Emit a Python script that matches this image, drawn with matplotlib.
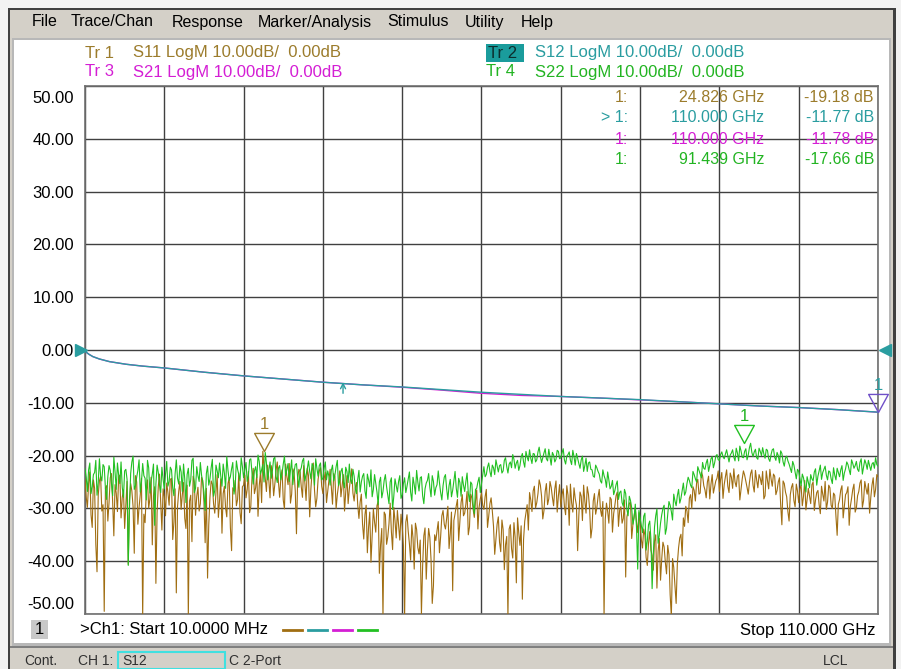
import numpy as np
import matplotlib
matplotlib.use("Agg")
import matplotlib.pyplot as plt
from matplotlib.patches import Rectangle
from matplotlib.lines import Line2D
from matplotlib.path import Path
from matplotlib.transforms import ScaledTranslation

plt.rcParams['font.family'] = ['Liberation Sans', 'DejaVu Sans']

# ---------------- data ----------------
start_ghz = 0.01
stop_ghz = 110.0

# S12 / S21 (smooth insertion-loss traces)
s12_freq = [0.01, 0.25, 0.6, 1.1, 2.0, 3.4, 5.7, 8.0, 11.0, 16.5, 22.0, 27.5, 33.0, 38.5, 44.0,
            49.5, 55.0, 60.5, 66.0, 71.5, 77.0, 82.5, 88.0, 93.5, 99.0, 104.5, 110.0]
s12_db = [0.0, -0.5, -0.85, -1.25, -1.7, -2.2, -2.7, -3.05, -3.4, -4.2, -4.9, -5.5, -6.1, -6.6, -7.0,
          -7.5, -8.0, -8.4, -8.8, -9.1, -9.4, -9.8, -10.2, -10.6, -10.9, -11.3, -11.77]
s21_db = [0.0, -0.5, -0.85, -1.25, -1.7, -2.2, -2.7, -3.05, -3.4, -4.2, -4.9, -5.5, -6.1, -6.6, -7.05,
          -7.6, -8.2, -8.6, -8.8, -9.1, -9.45, -9.8, -10.2, -10.6, -10.9, -11.3, -11.78]

# S11 (reflection, noisy) - even samples
s11_db = [
    -24.5, -29.8, -23.1, -33.6, -26.2, -42.0, -24.8, -30.5, -49.5, -25.7, -28.9, -23.4, -35.2, -27.1, -24.0, -31.8, -26.5,
    -29.4, -40.6, -25.3, -29.6, -23.8, -33.0, -27.4, -50.5, -32.7, -24.6, -28.2, -36.9, -25.9, -30.8, -23.5, -34.1,
    -27.8, -25.2, -29.4, -24.3, -32.6, -46.0, -26.8, -30.2, -25.1, -33.8, -50.5, -27.5, -23.9, -31.3, -26.0, -29.1, -24.7,
    -36.5, -43.2, -27.9, -25.4, -30.9, -23.6, -28.4, -34.7, -25.8, -31.6, -24.2, -38.0, -26.7, -29.5, -23.3, -32.9,
    -25.6, -28.0, -23.0, -29.6, -22.4, -26.1, -31.5, -23.3, -19.18, -24.3, -21.8, -28.0, -23.6, -25.4, -21.2, -27.9, -22.7,
    -30.1, -24.0, -21.5, -27.3, -23.2, -34.8, -22.6, -25.9, -21.9, -28.5, -23.8, -26.3, -21.4, -29.7, -24.5, -22.3,
    -27.2, -23.1, -26.8, -22.6, -29.2, -24.0, -27.4, -22.9, -25.7, -30.5, -23.8, -26.3, -22.5, -28.6, -25.1, -31.9, -27.3,
    -35.8, -29.4, -33.6, -40.2, -30.1, -34.5, -28.6, -36.9, -50.5, -31.2, -35.4, -29.0, -37.8, -32.3, -30.4, -36.0,
    -33.4, -50.5, -31.2, -36.7, -33.1, -41.5, -34.0, -38.6, -50.0, -35.2, -43.4, -33.8, -39.7, -44.6, -36.1, -32.5, -35.3,
    -30.4, -33.9, -29.6, -34.8, -45.6, -31.0, -28.3, -32.6, -27.4, -30.9, -26.8, -33.5, -28.0, -31.7, -26.5, -29.8,
    -27.1, -30.2, -26.4, -31.5, -28.0, -33.4, -35.8, -31.6, -38.2, -34.0, -36.9, -50.5, -33.1, -39.4, -35.5, -31.8, -37.0,
    -47.2, -32.4, -29.3, -27.0, -30.6, -25.8, -28.9, -24.6, -27.7, -30.4, -25.3, -28.2, -26.0, -29.5, -24.8, -27.6,
    -29.8, -26.3, -31.2, -27.5, -25.4, -30.7, -28.1, -38.0, -26.9, -32.3, -28.6, -25.9, -30.1, -33.7, -27.2, -29.9, -26.4,
    -31.5, -50.5, -29.0, -32.8, -28.3, -31.0, -27.6, -33.4, -29.7, -31.9, -43.0, -30.5, -28.8, -33.1, -30.0, -34.6,
    -33.2, -37.5, -35.1, -40.8, -34.4, -38.9, -36.2, -45.1, -35.7, -39.6, -37.3, -42.4, -38.8, -50.5, -41.2, -48.0, -37.5,
    -34.9, -31.8, -29.6, -32.7, -27.4, -25.9, -28.6, -24.5, -27.1, -23.8, -26.5, -25.0, -28.2, -23.6, -26.0, -24.3,
    -26.8, -23.2, -25.5, -22.7, -27.0, -24.1, -22.5, -25.9, -23.6, -26.4, -22.9, -24.8, -27.3, -23.4, -25.6, -22.8, -26.1,
    -24.3, -23.0, -27.6, -24.7, -22.6, -25.8, -23.9, -26.6, -24.2, -33.1, -25.3, -27.8, -32.4, -26.0, -28.5, -25.4,
    -28.9, -25.6, -27.7, -30.3, -26.2, -29.1, -25.0, -28.4, -26.6, -31.0, -27.3, -24.9, -28.8, -26.1, -30.0, -27.5, -35.1,
    -28.3, -25.7, -29.6, -27.0, -33.2, -28.1, -25.4, -29.9, -26.8, -24.6, -28.5, -26.2, -25.3, -27.9, -24.2, -26.4,
    -24.0,
]
# S11 - odd samples (between the even ones)
s11_db_odd = [
    -27.9, -25.3, -31.2, -24.6, -36.8, -27.5, -23.9, -29.3, -26.1, -32.4, -24.2, -28.7, -25.5, -30.6, -23.7, -27.9, -33.8,
    -24.9, -28.4, -26.7, -38.5, -25.0, -29.8, -24.3, -31.1, -26.9, -30.0, -24.1, -27.6, -44.2, -25.8, -29.0, -26.3,
    -31.4, -27.0, -24.5, -35.9, -26.3, -29.7, -24.9, -27.4, -31.8, -25.6, -28.6, -36.3, -25.0, -27.7, -30.5, -24.1, -28.9,
    -26.2, -33.1, -24.8, -29.1, -26.9, -31.7, -24.4, -27.2, -29.9, -25.3, -33.6, -26.1, -24.7, -28.3, -30.7, -25.9,
    -23.7, -26.4, -30.8, -24.1, -27.2, -23.5, -25.7, -28.9, -22.2, -26.8, -24.7, -21.9, -27.6, -22.8, -25.0, -24.2, -28.4,
    -21.6, -25.5, -29.0, -22.5, -26.7, -24.4, -23.1, -27.9, -25.2, -22.4, -31.6, -23.0, -26.5, -28.1, -22.9, -25.8,
    -24.4, -28.9, -24.8, -26.0, -23.4, -30.0, -25.6, -27.8, -23.6, -26.9, -29.1, -24.3, -27.1, -26.0, -29.4, -28.8, -33.0,
    -31.2, -38.4, -30.7, -35.1, -32.6, -29.5, -42.3, -33.8, -30.7, -36.8, -32.9, -34.4, -29.8, -35.6, -33.3, -31.1,
    -37.0, -32.6, -34.3, -39.8, -35.6, -32.8, -37.4, -36.0, -40.9, -33.7, -37.8, -35.5, -48.0, -35.0, -34.2, -38.4, -31.4,
    -33.0, -31.9, -37.6, -30.7, -32.3, -29.5, -36.1, -28.9, -31.4, -29.2, -35.0, -27.3, -30.1, -28.6, -33.9, -28.2,
    -29.4, -27.8, -33.6, -29.1, -30.5, -38.7, -33.0, -36.4, -32.2, -41.6, -35.3, -33.9, -37.6, -32.7, -44.1, -34.6, -33.3,
    -35.9, -30.8, -34.1, -28.4, -26.7, -29.9, -27.2, -25.6, -32.0, -26.8, -29.3, -24.9, -27.9, -26.3, -30.7, -25.5,
    -27.4, -29.6, -25.7, -33.2, -28.9, -26.1, -29.4, -31.4, -27.7, -25.6, -30.9, -27.3, -35.6, -28.6, -31.1, -27.8, -30.2,
    -28.7, -32.1, -30.6, -27.9, -34.5, -29.4, -26.9, -30.3, -32.8, -28.4, -31.6, -29.1, -35.7, -31.4, -32.6, -30.8,
    -35.8, -33.9, -39.3, -36.6, -37.9, -41.7, -35.0, -38.1, -43.6, -36.4, -40.2, -37.0, -46.3, -39.5, -44.7, -40.5, -35.6,
    -39.0, -33.4, -30.5, -28.1, -30.0, -26.6, -25.2, -27.3, -23.1, -25.7, -28.0, -23.9, -25.4, -27.1, -24.8, -22.9,
    -24.5, -28.1, -24.0, -25.8, -23.3, -26.2, -25.0, -23.9, -28.4, -24.4, -23.7, -26.0, -25.1, -22.7, -26.9, -24.6, -23.6,
    -25.5, -28.2, -22.9, -26.3, -24.4, -23.5, -27.4, -25.0, -29.3, -24.8, -26.9, -30.6, -27.4, -25.3, -29.7, -26.7,
    -26.3, -29.5, -24.7, -28.2, -27.6, -25.5, -30.4, -27.0, -29.3, -25.8, -28.6, -30.2, -25.6, -29.4, -27.1, -31.5, -29.2,
    -26.5, -31.8, -27.4, -25.9, -29.6, -26.4, -30.7, -27.6, -25.2, -29.8, -24.9, -27.3, -30.9, -25.6, -27.8, -23.6,
]

# S22 (reflection, noisy) - even samples
s22_db = [
    -22.5, -26.8, -21.4, -25.9, -23.2, -27.5, -20.6, -24.8, -22.1, -28.3, -21.9, -25.2, -20.3, -26.4, -23.7, -21.2, -27.9,
    -22.6, -40.8, -23.4, -20.1, -25.7, -22.8, -26.9, -21.5, -24.3, -20.9, -27.1, -23.5, -33.2, -21.8, -25.6, -22.2,
    -26.3, -21.1, -24.9, -22.7, -27.6, -20.8, -25.4, -23.1, -21.6, -28.9, -22.4, -24.6, -20.5, -26.2, -23.8, -21.3, -25.1,
    -30.4, -22.0, -24.4, -20.7, -26.6, -22.9, -21.4, -25.8, -23.3, -20.2, -24.7, -22.5, -27.3, -21.0, -23.6, -20.4,
    -24.2, -21.3, -23.8, -20.6, -25.4, -22.1, -19.9, -23.5, -21.7, -19.4, -24.6, -21.2, -22.8, -20.3, -25.1, -21.9, -23.4,
    -20.1, -22.6, -24.9, -20.8, -23.1, -21.5, -26.0, -22.3, -20.5, -23.7, -21.0, -24.4, -22.0, -20.6, -23.9, -21.4,
    -24.3, -21.2, -22.9, -25.6, -21.8, -23.7, -20.9, -24.8, -22.4, -26.1, -23.0, -21.6, -25.3, -23.9, -27.2, -22.8, -25.0,
    -23.4, -28.1, -24.6, -22.7, -26.4, -25.2, -29.3, -24.1, -26.8, -23.6, -27.5, -25.0, -30.2, -24.4, -26.9, -23.8,
    -27.4, -24.2, -25.8, -23.1, -28.6, -25.5, -22.8, -26.7, -24.0, -29.1, -25.2, -23.4, -27.8, -24.9, -26.1, -22.9, -27.0,
    -25.7, -23.6, -28.3, -24.5, -26.6, -23.0, -27.9, -25.1, -24.0, -26.8, -23.3, -28.7, -25.4, -31.0, -26.2, -24.1,
    -25.3, -22.1, -23.6, -21.4, -24.0, -22.3, -20.8, -23.1, -21.7, -22.9, -20.4, -23.3, -21.2, -19.8, -22.4, -20.9, -21.9,
    -19.6, -22.2, -20.3, -18.9, -21.5, -19.7, -20.8, -18.4, -21.3, -19.5, -20.6, -18.8, -21.8, -19.9, -20.7, -19.2,
    -20.4, -18.7, -21.6, -19.8, -20.9, -19.0, -21.8, -20.5, -22.4, -20.1, -21.9, -23.0, -21.2, -22.7, -24.1, -22.3, -23.5,
    -25.2, -23.8, -26.0, -24.6, -25.8, -27.4, -25.5, -28.3, -26.7, -29.6, -27.2, -31.4, -28.5, -33.0, -29.2, -41.5,
    -31.8, -34.6, -30.9, -36.2, -32.4, -45.2, -33.5, -30.1, -35.0, -31.2, -29.4, -33.8, -28.7, -30.6, -27.3, -29.5, -26.4,
    -28.1, -25.2, -26.9, -24.1, -25.6, -23.0, -24.4, -22.1, -23.5, -21.3, -22.6, -20.7, -21.9, -20.2, -21.4, -19.8,
    -20.9, -19.3, -20.6, -18.9, -21.2, -19.5, -20.3, -18.6, -21.0, -19.1, -20.4, -18.7, -19.9, -17.66, -20.2, -18.8, -20.7,
    -19.2, -18.5, -20.5, -19.0, -21.1, -18.9, -20.3, -19.4, -21.4, -19.6, -22.0, -20.1, -21.6, -23.2, -21.8, -24.4,
    -23.0, -25.7, -24.2, -26.9, -25.1, -23.6, -24.8, -22.5, -23.9, -21.8, -23.2, -22.0, -24.6, -23.1, -25.3, -23.7, -22.4,
    -24.0, -21.9, -23.3, -21.2, -22.7, -20.8, -22.4, -21.1, -23.0, -20.6, -22.1, -21.5, -20.9, -22.8, -21.3, -20.4,
    -22.0,
]
# S22 - odd samples
s22_db_odd = [
    -24.1, -22.7, -27.2, -23.6, -20.9, -25.1, -23.9, -21.7, -26.2, -24.0, -22.8, -27.6, -23.1, -21.4, -25.3, -26.0, -22.9,
    -24.5, -30.1, -21.2, -26.4, -24.1, -20.8, -25.0, -23.8, -28.4, -22.3, -24.9, -21.6, -25.4, -23.2, -27.0, -24.5,
    -23.5, -25.8, -22.2, -26.1, -23.4, -24.3, -21.9, -26.8, -24.4, -23.6, -25.8, -20.9, -27.0, -22.1, -24.9, -23.7, -26.9,
    -23.4, -25.6, -22.3, -27.7, -21.8, -24.2, -23.9, -21.6, -26.2, -22.8, -24.0, -21.3, -25.7, -22.6, -24.8, -22.1,
    -22.6, -24.9, -20.8, -23.3, -22.9, -24.2, -21.1, -22.7, -25.0, -21.4, -22.8, -24.3, -20.6, -23.9, -22.4, -24.6, -21.6,
    -23.8, -21.5, -22.9, -25.5, -21.7, -24.2, -22.9, -21.0, -24.8, -22.5, -23.0, -21.5, -25.6, -22.4, -21.9, -24.6,
    -22.4, -24.6, -23.9, -22.8, -24.8, -22.1, -25.7, -23.0, -24.9, -22.2, -25.1, -24.5, -22.6, -26.3, -24.5, -26.9, -23.9,
    -26.7, -23.5, -25.9, -27.8, -23.6, -26.9, -25.0, -28.0, -24.7, -25.9, -29.1, -24.2, -27.7, -25.6, -24.9, -28.1,
    -25.3, -27.0, -24.4, -26.9, -24.1, -27.3, -25.0, -24.2, -27.6, -26.3, -24.7, -26.0, -23.8, -27.5, -25.5, -25.1, -28.4,
    -24.1, -26.3, -25.7, -27.8, -24.8, -26.2, -24.3, -27.7, -25.6, -24.9, -27.1, -25.0, -29.2, -26.4, -25.0, -27.0,
    -23.7, -24.0, -22.2, -23.0, -21.8, -23.6, -22.0, -21.9, -23.3, -20.9, -22.1, -21.6, -22.3, -20.7, -21.4, -22.8, -20.3,
    -21.2, -19.2, -21.0, -20.5, -19.6, -21.2, -19.3, -20.1, -20.4, -18.7, -21.0, -20.3, -19.4, -21.2, -19.0, -20.6,
    -19.5, -20.8, -20.1, -19.3, -21.7, -20.2, -19.6, -21.5, -20.8, -23.0, -20.5, -21.4, -22.6, -23.9, -21.8, -23.0, -24.8,
    -22.7, -24.5, -23.1, -26.3, -24.7, -26.6, -24.8, -27.0, -28.9, -26.4, -30.2, -27.7, -29.9, -31.8, -33.6, -30.4,
    -33.3, -31.5, -37.9, -33.1, -35.8, -38.7, -31.4, -36.6, -32.8, -30.0, -34.9, -31.1, -29.4, -32.2, -28.6, -27.6, -29.0,
    -26.7, -27.5, -25.3, -24.7, -26.1, -23.6, -25.0, -22.8, -24.2, -22.4, -21.4, -23.0, -20.6, -22.3, -20.1, -20.8,
    -19.8, -20.2, -19.7, -20.0, -19.9, -18.9, -21.0, -19.5, -18.2, -20.3, -19.2, -20.8, -18.5, -19.4, -19.3, -20.4, -18.6,
    -20.0, -19.7, -18.8, -20.6, -19.8, -18.7, -20.9, -20.0, -19.1, -21.2, -20.5, -21.0, -22.4, -21.1, -23.1, -22.6,
    -24.4, -23.5, -25.7, -24.0, -26.1, -24.4, -23.1, -25.6, -22.9, -24.5, -22.6, -23.7, -22.9, -24.4, -22.3, -24.6, -23.2,
    -22.7, -24.7, -22.5, -21.7, -23.6, -21.5, -21.9, -22.6, -21.3, -23.5, -20.8, -22.6, -21.9, -21.6, -22.4, -21.7,
]

# marker readouts
mk_s11 = (24.826, -19.18)
mk_s12 = (110.000, -11.77)
mk_s21 = (110.000, -11.78)
mk_s22 = (91.439, -17.66)

y_ticks = [50, 40, 30, 20, 10, 0, -10, -20, -30, -40, -50]
y_labels = ["50.00", "40.00", "30.00", "20.00", "10.00", "0.00", "-10.00", "-20.00", "-30.00", "-40.00", "-50.00"]

menu_items = ["File", "Trace/Chan", "Response", "Marker/Analysis", "Stimulus", "Utility", "Help"]
menu_x = [32, 71, 172, 258, 387, 465, 521]

# ---------------- style ----------------
C_S11 = '#a06e12'
C_S11_TXT = '#9c7c2c'
C_S12 = '#2a9da0'
C_S21 = '#d41ed4'
C_S22 = '#22c022'
C_S22_TXT = '#22b422'
GRID = '#404040'
WIN_GRAY = '#d4d0c8'

W, H = 901, 669
fig = plt.figure(figsize=(W / 100, H / 100), dpi=100)
fig.patch.set_facecolor('#f2f2f2')


def P(x, y):
    return (x / W, 1 - y / H)


def rect(x0, y0, x1, y1, fc, ec='none', lw=0, z=-10):
    r = Rectangle(P(x0, y1), (x1 - x0) / W, (y1 - y0) / H, transform=fig.transFigure,
                  facecolor=fc, edgecolor=ec, linewidth=lw, zorder=z)
    fig.patches.append(r)


def ftext(x, y, s, color='#000000', size=12, ha='left', va='center', **kw):
    fig.text(*P(x, y), s, color=color, fontsize=size, ha=ha, va=va, zorder=10, **kw)


def merge(even, odd):
    out = []
    for i, v in enumerate(even):
        out.append(v)
        if i < len(odd):
            out.append(odd[i])
    return out


# window chrome
rect(8, 8, 896, 669, '#404040')
rect(10, 10, 893, 669, WIN_GRAY)
rect(12, 38, 891, 646, '#b8b8b8')
rect(14, 40, 889, 643, '#ffffff')
rect(10, 646, 893, 648, '#808080')
rect(10, 648, 893, 669, WIN_GRAY)

for s, x in zip(menu_items, menu_x):
    ftext(x, 22, s, size=11.5)

# header traces
ftext(85, 53, "Tr 1", C_S11_TXT)
ftext(133, 53, "S11 LogM 10.00dB/  0.00dB", C_S11_TXT)
ftext(85, 72, "Tr 3", C_S21)
ftext(133, 72, "S21 LogM 10.00dB/  0.00dB", C_S21)
rect(486, 44, 524, 62, '#1a9c9c', z=-5)
ftext(488, 53, "Tr 2", '#0c2e2e')
ftext(535, 53, "S12 LogM 10.00dB/  0.00dB", C_S12)
ftext(486, 72, "Tr 4", C_S22_TXT)
ftext(535, 72, "S22 LogM 10.00dB/  0.00dB", C_S22_TXT)

# ---------------- axes ----------------
ax = fig.add_axes([85 / W, 1 - 614 / H, (878 - 85) / W, (614 - 86) / H])
ax.set_zorder(1)
ax.set_facecolor('white')
ax.set_xlim(start_ghz, stop_ghz)
ax.set_ylim(-50, 50)
ax.set_xticks(np.linspace(start_ghz, stop_ghz, 11))
ax.set_xticklabels([])
ax.set_yticks(y_ticks)
ax.set_yticklabels(y_labels, fontsize=12)
ax.tick_params(length=0, pad=8)
ax.grid(True, color=GRID, linewidth=1.0)
for sp in ax.spines.values():
    sp.set_color('#707070')
    sp.set_linewidth(1.2)
labels = ax.get_yticklabels()
labels[0].set_transform(labels[0].get_transform() + ScaledTranslation(0, -0.11, fig.dpi_scale_trans))
labels[-1].set_transform(labels[-1].get_transform() + ScaledTranslation(0, 0.11, fig.dpi_scale_trans))

s11_all = merge(s11_db, s11_db_odd)
s22_all = merge(s22_db, s22_db_odd)
f11 = np.linspace(start_ghz, stop_ghz, len(s11_all))
f22 = np.linspace(start_ghz, stop_ghz, len(s22_all))
ax.plot(f11, s11_all, color=C_S11, lw=0.8, zorder=3)
ax.plot(s12_freq, s21_db, color=C_S21, lw=1.0, zorder=3)
ax.plot(s12_freq, s12_db, color=C_S12, lw=1.0, zorder=4)
ax.plot(f22, s22_all, color=C_S22, lw=0.8, zorder=5)

# marker triangles (apex at data point)
tri = Path([(0, 0), (-0.6, 1.1), (0.6, 1.1), (0, 0)], [Path.MOVETO, Path.LINETO, Path.LINETO, Path.CLOSEPOLY])


def marker(pt, color, txtcolor):
    ax.plot([pt[0]], [pt[1]], marker=tri, ms=26, mfc='none', mec=color, mew=1.0, zorder=6, clip_on=False)
    ax.annotate("1", xy=pt, xytext=(0, 19), textcoords='offset points', ha='center', va='center',
                color=txtcolor, fontsize=12, zorder=6, annotation_clip=False)


marker(mk_s11, C_S11_TXT, C_S11_TXT)
marker(mk_s22, C_S22, C_S22_TXT)
marker(mk_s12, '#7050c8', C_S12)

# arrow on S12 trace
ax.annotate('', xy=(35.8, -6.1), xytext=(35.8, -8.2),
            arrowprops=dict(arrowstyle='->', color=C_S12, lw=1.0, mutation_scale=9,
                            shrinkA=0, shrinkB=0), zorder=6)

# reference level triangles
ax.plot([start_ghz], [0], marker='>', ms=9, color=C_S12, clip_on=False, zorder=7,
        transform=ax.transData + ScaledTranslation(-0.045, 0, fig.dpi_scale_trans))
ax.plot([stop_ghz], [0], marker='<', ms=9, color=C_S12, clip_on=False, zorder=7,
        transform=ax.transData + ScaledTranslation(0.065, 0, fig.dpi_scale_trans))

# marker table
rows = [
    ("1:", "24.826 GHz", "-19.18 dB", C_S11_TXT, 97),
    ("> 1:", "110.000 GHz", "-11.77 dB", C_S12, 118),
    ("1:", "110.000 GHz", "-11.78 dB", C_S21, 139),
    ("1:", "91.439 GHz", "-17.66 dB", C_S22_TXT, 160),
]
for a, b, c, col, y in rows:
    ftext(628, y, a, col, size=11.5, ha='right')
    ftext(764, y, b, col, size=11.5, ha='right')
    ftext(874, y, c, col, size=11.5, ha='right')

# bottom bar
rect(31, 620, 48, 639, '#c8c8c8', z=-5)
ftext(39.5, 630, "1", size=12, ha='center')
ftext(80, 630, ">Ch1: Start 10.0000 MHz", size=12)
for x0, col in zip([283, 308, 333, 358], [C_S11, C_S12, C_S21, C_S22]):
    fig.lines.append(Line2D([x0 / W, (x0 + 19) / W], [1 - 630 / H, 1 - 630 / H], color=col, lw=2,
                            transform=fig.transFigure, zorder=10))
ftext(876, 630, "Stop 110.000 GHz", size=12, ha='right')

# status bar
ftext(24, 661, "Cont.", '#303030', size=10)
ftext(78, 661, "CH 1:", '#303030', size=10)
rect(118, 652, 225, 669, WIN_GRAY, ec='#40e0e0', lw=1.5, z=-5)
ftext(122, 661, "S12", '#303030', size=10)
ftext(229, 661, "C 2-Port", '#303030', size=10)
ftext(823, 661, "LCL", '#303030', size=10)

fig.savefig("out.png", dpi=100, facecolor=fig.get_facecolor())
